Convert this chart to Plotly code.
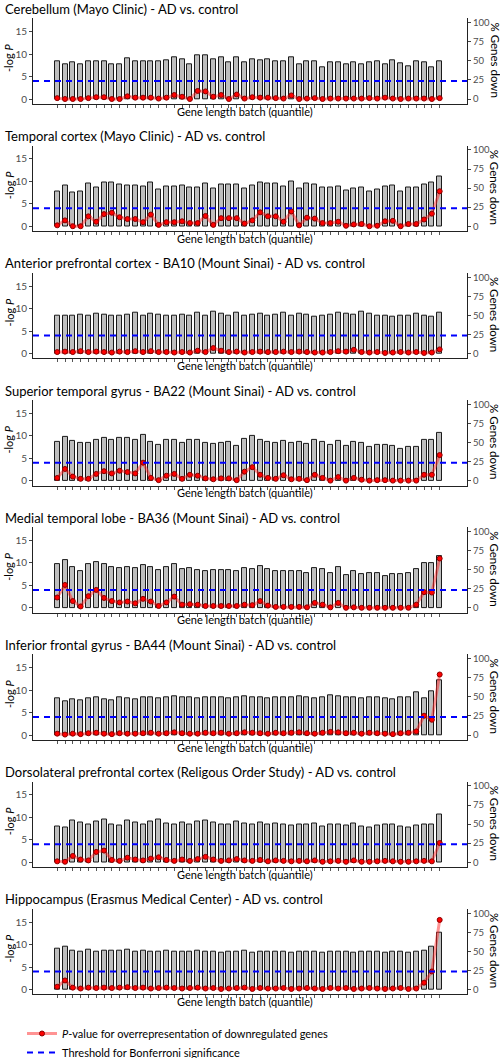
import plotly.graph_objects as go

# ---------------- data ----------------
batch = list(range(1, 51))

panel_titles = [
    "Cerebellum (Mayo Clinic) - AD vs. control",
    "Temporal cortex (Mayo Clinic) - AD vs. control",
    "Anterior prefrontal cortex - BA10 (Mount Sinai) - AD vs. control",
    "Superior temporal gyrus - BA22 (Mount Sinai) - AD vs. control",
    "Medial temporal lobe - BA36 (Mount Sinai) - AD vs. control",
    "Inferior frontal gyrus - BA44 (Mount Sinai) - AD vs. control",
    "Dorsolateral prefrontal cortex (Religous Order Study) - AD vs. control",
    "Hippocampus (Erasmus Medical Center) - AD vs. control",
]

# % genes down (bars, right axis)
pct_cerebellum = [49, 45, 48, 46, 49, 50, 50, 46, 46, 53, 50, 50, 50, 49, 51, 55, 52, 46, 58, 57,
                  52, 55, 48, 55, 48, 52, 51, 52, 50, 49, 55, 45, 49, 50, 42, 48, 48, 45, 48, 46,
                  48, 50, 45, 51, 47, 43, 49, 48, 42, 49]
pct_temporal = [46, 53, 44, 45, 56, 51, 58, 58, 55, 54, 54, 52, 58, 48, 52, 52, 53, 51, 51, 56,
                49, 55, 55, 55, 50, 54, 58, 56, 56, 52, 59, 49, 56, 55, 51, 51, 52, 47, 50, 51,
                45, 48, 52, 53, 46, 51, 51, 55, 58, 65]
pct_ba10 = [50, 49, 50, 51, 50, 52, 51, 50, 49, 51, 53, 50, 52, 51, 50, 49, 51, 49, 53, 50,
            55, 52, 50, 53, 49, 51, 52, 50, 51, 53, 50, 52, 51, 48, 49, 51, 53, 52, 51, 55,
            52, 50, 49, 48, 49, 50, 52, 49, 48, 54]
pct_ba22 = [51, 58, 52, 49, 50, 54, 56, 54, 56, 56, 54, 60, 51, 47, 54, 54, 49, 54, 53, 50,
            48, 50, 51, 45, 55, 59, 54, 51, 49, 52, 49, 51, 48, 54, 51, 47, 52, 46, 51, 49,
            44, 47, 47, 46, 41, 44, 44, 54, 54, 62]
pct_ba36 = [57, 62, 54, 48, 57, 60, 57, 54, 52, 54, 52, 56, 54, 50, 54, 57, 51, 52, 50, 48,
            49, 49, 49, 48, 52, 51, 55, 51, 48, 48, 48, 48, 46, 52, 51, 46, 53, 43, 48, 44,
            45, 46, 42, 44, 44, 45, 51, 59, 59, 68]
pct_ba44 = [48, 44, 47, 45, 48, 49, 47, 46, 49, 48, 47, 49, 50, 48, 49, 51, 50, 49, 48, 50,
            49, 50, 48, 49, 51, 50, 49, 48, 50, 49, 50, 51, 49, 48, 50, 52, 51, 49, 50, 48,
            50, 49, 48, 47, 49, 50, 56, 48, 58, 72]
pct_dlpfc = [47, 45, 55, 52, 50, 54, 56, 50, 48, 55, 52, 50, 53, 56, 51, 49, 52, 50, 53, 55,
             52, 49, 50, 53, 51, 50, 52, 49, 51, 50, 48, 50, 49, 51, 47, 49, 50, 48, 51, 47,
             46, 48, 50, 49, 47, 46, 48, 50, 49, 62]
pct_hippocampus = [53, 56, 51, 49, 52, 50, 51, 51, 51, 52, 50, 51, 49, 50, 51, 50, 49, 50, 51, 49,
                   50, 48, 49, 50, 51, 48, 50, 49, 49, 50, 48, 49, 50, 49, 48, 50, 49, 50, 48, 49,
                   50, 49, 48, 49, 50, 48, 49, 51, 56, 74]

# -log P (red line, left axis)
nlp_cerebellum = [0.2, 0.0, 0.0, 0.0, 0.2, 0.4, 0.4, 0.0, 0.0, 0.6, 0.3, 0.3, 0.3, 0.1, 0.3, 0.9, 0.5, 0.0, 1.8, 1.7,
                  0.5, 0.9, 0.0, 1.0, 0.1, 0.4, 0.3, 0.3, 0.2, 0.1, 0.8, 0.0, 0.1, 0.2, 0.0, 0.1, 0.1, 0.1, 0.1, 0.1,
                  0.2, 0.1, 0.3, 0.1, 0.0, 0.1, 0.1, 0.1, 0.0, 0.2]
nlp_temporal = [0.2, 1.3, 0.0, 0.0, 2.2, 1.0, 2.7, 3.0, 2.0, 1.6, 1.6, 0.9, 2.6, 0.3, 0.9, 0.9, 1.1, 0.7, 0.7, 2.3,
                0.3, 1.8, 1.8, 1.8, 0.6, 1.3, 3.1, 2.2, 2.2, 1.0, 3.3, 0.2, 1.9, 1.7, 0.7, 0.7, 1.0, 0.1, 0.4, 0.5,
                0.0, 0.1, 1.1, 1.2, 0.0, 0.5, 0.5, 1.5, 2.8, 7.8]
nlp_ba10 = [0.3, 0.4, 0.3, 0.5, 0.3, 0.4, 0.3, 0.2, 0.4, 0.3, 0.5, 0.3, 0.5, 0.3, 0.3, 0.2, 0.3, 0.2, 0.6, 0.3,
            1.2, 0.6, 0.3, 0.4, 0.2, 0.3, 0.4, 0.3, 0.3, 0.4, 0.3, 0.4, 0.3, 0.2, 0.2, 0.3, 0.5, 0.4, 0.8, 0.3,
            0.2, 0.3, 0.1, 0.2, 0.3, 0.2, 0.3, 0.1, 0.2, 0.9]
nlp_ba22 = [0.6, 2.6, 0.9, 0.4, 0.4, 1.5, 2.1, 1.6, 2.2, 1.9, 1.6, 4.0, 0.6, 0.1, 1.1, 1.5, 0.4, 1.3, 1.1, 0.5,
            0.3, 0.5, 0.5, 0.1, 2.0, 3.0, 1.3, 0.6, 0.4, 1.2, 0.3, 0.4, 0.1, 1.3, 0.6, 0.0, 0.8, 0.0, 0.6, 0.2,
            0.0, 0.1, 0.1, 0.0, 0.0, 0.0, 0.0, 1.3, 1.3, 5.7]
nlp_ba36 = [2.3, 5.1, 1.5, 0.3, 2.6, 4.0, 2.2, 1.5, 1.2, 1.4, 1.0, 2.0, 1.4, 0.4, 1.2, 2.5, 0.7, 0.8, 0.7, 0.4,
            0.4, 0.4, 0.4, 0.4, 0.7, 0.6, 1.5, 0.5, 0.2, 0.2, 0.2, 0.2, 0.1, 1.1, 0.7, 0.1, 1.1, 0.0, 0.1, 0.0,
            0.0, 0.0, 0.0, 0.0, 0.0, 0.0, 0.7, 3.5, 3.4, 11.0]
nlp_ba44 = [0.3, 0.1, 0.3, 0.2, 0.4, 0.5, 0.3, 0.2, 0.4, 0.3, 0.3, 0.4, 0.5, 0.3, 0.4, 0.6, 0.4, 0.3, 0.3, 0.5,
            0.4, 0.5, 0.3, 0.4, 0.6, 0.5, 0.4, 0.3, 0.5, 0.4, 0.5, 0.6, 0.4, 0.3, 0.5, 0.7, 0.6, 0.4, 0.5, 0.3,
            0.5, 0.4, 0.3, 0.2, 0.4, 0.5, 0.8, 4.3, 3.4, 13.5]
nlp_dlpfc = [0.2, 0.1, 1.4, 0.6, 0.4, 2.3, 2.6, 0.5, 0.3, 1.0, 0.6, 0.4, 0.8, 1.1, 0.5, 0.3, 0.6, 0.3, 0.7, 1.2,
             0.6, 0.3, 0.4, 0.7, 0.4, 0.3, 0.5, 0.2, 0.4, 0.3, 0.2, 0.3, 0.2, 0.4, 0.1, 0.2, 0.3, 0.1, 0.4, 0.1,
             0.1, 0.2, 0.3, 0.2, 0.1, 0.1, 0.2, 0.3, 0.2, 4.3]
nlp_hippocampus = [0.6, 2.0, 0.4, 0.2, 0.4, 0.3, 0.4, 0.3, 0.4, 0.5, 0.3, 0.4, 0.2, 0.3, 0.4, 0.3, 0.2, 0.3, 0.4, 0.2,
                   0.3, 0.1, 0.2, 0.3, 0.4, 0.1, 0.3, 0.2, 0.2, 0.3, 0.1, 0.2, 0.3, 0.2, 0.1, 0.3, 0.2, 0.3, 0.1, 0.2,
                   0.3, 0.2, 0.1, 0.2, 0.3, 0.1, 0.2, 1.5, 4.0, 15.5]

pct_series = [pct_cerebellum, pct_temporal, pct_ba10, pct_ba22, pct_ba36, pct_ba44, pct_dlpfc, pct_hippocampus]
nlp_series = [nlp_cerebellum, nlp_temporal, nlp_ba10, nlp_ba22, nlp_ba36, nlp_ba44, nlp_dlpfc, nlp_hippocampus]

bonferroni_threshold = 4.0
left_ticks = [0, 5, 10, 15]
right_ticks = [0, 25, 50, 75, 100]
line_name = "<i>P</i>-value for overrepresentation of downregulated genes"
thresh_name = "Threshold for Bonferroni significance"
xlabel = "Gene length batch (quantile)"

# ---------------- layout helpers ----------------
W, H = 500.0, 1058.0
FONT = "Lato"
PITCH = 127.2
L_RANGE = [-1.11, 18.0]
R_RANGE = [L_RANGE[0] * 100 / 17.0, L_RANGE[1] * 100 / 17.0]
X_DOM = [33 / W, 467 / W]


def py(px):
    return 1 - px / H


fig = go.Figure()
layout = dict(
    width=500, height=1058,
    margin=dict(l=0, r=0, t=0, b=0, autoexpand=False),
    paper_bgcolor="white", plot_bgcolor="white",
    font=dict(family=FONT, color="black"),
    showlegend=True,
    bargap=0,
)
annotations = []
shapes = []

for i in range(8):
    n_x = i + 1
    n_r = 2 * i + 1  # right (percent) axis – base
    n_l = 2 * i + 2  # left (-log P) axis – overlaying
    xname = "x" if n_x == 1 else f"x{n_x}"
    rname = "y" if n_r == 1 else f"y{n_r}"
    lname = f"y{n_l}"
    top = 18.3 + PITCH * i
    bot = 104 + PITCH * i
    dom = [py(bot), py(top)]

    layout["xaxis" if n_x == 1 else f"xaxis{n_x}"] = dict(
        domain=X_DOM, anchor=rname, range=[-2.1, 53.5],
        showline=True, linecolor="#222", linewidth=1,
        ticks="outside", ticklen=3, tickcolor="#555", tickwidth=1,
        tickvals=batch, showticklabels=False,
        showgrid=False, zeroline=False, fixedrange=True,
    )
    layout["yaxis" if n_r == 1 else f"yaxis{n_r}"] = dict(
        domain=dom, anchor=xname, side="right", range=R_RANGE,
        tickvals=right_ticks, ticks="outside", ticklen=3, tickcolor="#444",
        showline=True, linecolor="#222", linewidth=1,
        tickfont=dict(size=9.5, color="#4d4d4d", family=FONT),
        showgrid=False, zeroline=False,
    )
    layout[f"yaxis{n_l}"] = dict(
        domain=dom, anchor=xname, side="left", overlaying=rname, range=L_RANGE,
        tickvals=left_ticks, ticks="outside", ticklen=3, tickcolor="#444",
        showline=True, linecolor="#222", linewidth=1,
        tickfont=dict(size=10, color="#4d4d4d", family=FONT),
        showgrid=False, zeroline=False,
    )

    fig.add_trace(go.Bar(
        x=batch, y=pct_series[i], xaxis=xname, yaxis=rname,
        width=0.64, marker=dict(color="#bebebe", line=dict(color="#1a1a1a", width=1)),
        showlegend=False, hoverinfo="skip",
    ))
    fig.add_trace(go.Scatter(
        x=batch, y=nlp_series[i], xaxis=xname, yaxis=lname,
        mode="lines+markers", name=line_name,
        line=dict(color="rgba(255,40,40,0.5)", width=3),
        marker=dict(size=5, color="#ff0000", line=dict(color="#8b0000", width=1)),
        showlegend=(i == 0), legendrank=1,
    ))

    shapes.append(dict(
        type="line", xref=f"{xname} domain", yref=lname,
        x0=0, x1=1, y0=bonferroni_threshold, y1=bonferroni_threshold,
        line=dict(color="#0000ff", width=2, dash="6px,5px"), layer="above",
    ))

    annotations.append(dict(
        text=panel_titles[i], xref="paper", yref="paper",
        x=3 / W, y=py(9 + PITCH * i), xanchor="left", yanchor="middle",
        showarrow=False, font=dict(size=13, color="black", family=FONT),
    ))
    annotations.append(dict(
        text=xlabel, xref="paper", yref="paper",
        x=245 / W, y=py(111 + PITCH * i), xanchor="center", yanchor="middle",
        showarrow=False, font=dict(size=11, color="black", family=FONT),
    ))
    annotations.append(dict(
        text="-log <i>P</i>", xref="paper", yref="paper",
        x=9 / W, y=py(58 + PITCH * i), xanchor="center", yanchor="middle",
        textangle=-90, showarrow=False, font=dict(size=11, color="black", family=FONT),
    ))
    annotations.append(dict(
        text="% Genes down", xref="paper", yref="paper",
        x=494.5 / W, y=py(60 + PITCH * i), xanchor="center", yanchor="middle",
        textangle=90, showarrow=False, font=dict(size=11.5, color="black", family=FONT),
    ))

# legend-only entry for the threshold line
fig.add_trace(go.Scatter(
    x=[None], y=[None], mode="lines", name=thresh_name,
    line=dict(color="#0000ff", width=2, dash="6px,5px"), legendrank=2,
))

layout["legend"] = dict(
    x=22 / W, y=py(1019), xanchor="left", yanchor="top",
    font=dict(size=11, color="black", family=FONT),
    bgcolor="rgba(0,0,0,0)", tracegroupgap=0, itemwidth=30,
)
layout["annotations"] = annotations
layout["shapes"] = shapes
fig.update_layout(**layout)

fig.write_html(
    "out.html",
    config={"displayModeBar": False},
    post_script="document.body.style.margin='0';document.body.style.padding='0';",
)
